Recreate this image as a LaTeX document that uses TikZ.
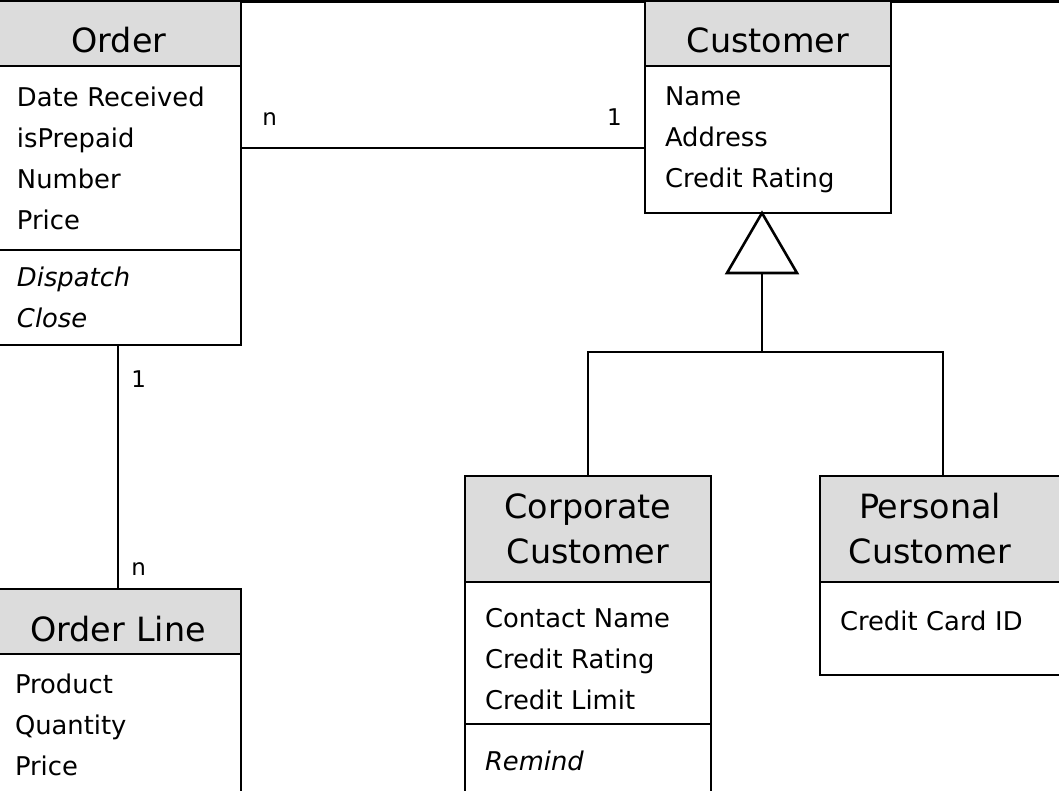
\documentclass[tikz,border=0pt]{standalone}
\usepackage{fontspec}
\setmainfont{DejaVu Sans}
\usepackage{xcolor}
\usetikzlibrary{positioning, calc}
\definecolor{HeadGray}{HTML}{DCDCDC}

\begin{document}
\begin{tikzpicture}[
    x=0.5pt, y=-0.5pt,
    class_head/.style={
        draw=black,
        line width=1.4pt,
        fill=HeadGray,
        anchor=north west,
        align=center,
        inner sep=0pt,
        outer sep=0pt,
        text width=123pt,
        minimum height=#1,
        font=\fontsize{16.7}{22.5}\selectfont
    },
    one_line/.style={
        text height=19.5pt,
        text depth=0pt
    },
    class_body/.style={
        draw=black,
        line width=1.4pt,
        fill=white,
        anchor=north west,
        align=left,
        inner xsep=10pt,
        inner ysep=0pt,
        outer sep=0pt,
        text width=103pt,
        minimum height=#1,
        font=\fontsize{12.9}{20.5}\selectfont
    },
    class_ops/.style={
        class_body=#1,
        font=\fontsize{12.9}{20.5}\selectfont\itshape
    },
    link_line/.style={
        line width=1.3pt,
        color=black
    },
    mult_label/.style={
        inner sep=0pt,
        font=\fontsize{11.5}{14}\selectfont
    }
]

\useasboundingbox (0,0) rectangle (1059,791);
\clip (0,0) rectangle (1059,791);

% top frame line
\draw[link_line, line width=1.5pt] (0,1.5) -- (1059,1.5);

% =========================
% ORDER
% =========================
\node[class_head=32.5pt, one_line, text width=122pt] (order_head) at (-3,1) {Order};
\node[class_body=92pt, text width=102pt] (order_attr) at (order_head.south west)
    {Date Received\\isPrepaid\\Number\\Price};
\node[class_ops=47.5pt, text width=102pt] (order_ops) at (order_attr.south west)
    {Dispatch\\Close};

% =========================
% CUSTOMER
% =========================
\node[class_head=32.5pt, one_line] (cust_head) at (645,1) {Customer};
\node[class_body=73.5pt] (cust_attr) at (cust_head.south west)
    {Name\\Address\\Credit Rating};

% =========================
% CORPORATE / PERSONAL
% =========================
\node[class_head=53pt] (corp_head) at (465,476) {Corporate\\Customer};
\node[class_body=71pt] (corp_attr) at (corp_head.south west)
    {\rule{0pt}{15.8pt}Contact Name\\Credit Rating\\Credit Limit};
\node[class_ops=37pt] (corp_ops) at (corp_attr.south west) {Remind};

\node[class_head=53pt] (pers_head) at (820,476)
    {\hspace*{-13pt}Personal\\\hspace*{-13pt}Customer};
\node[class_body=46.5pt, text depth=8pt] (pers_attr) at (pers_head.south west)
    {Credit Card ID};

% =========================
% ORDER LINE
% =========================
\node[class_head=32.5pt, one_line] (ol_head) at (-5,589) {Order Line};
\node[class_body=71pt] (ol_attr) at (ol_head.south west)
    {Product\\Quantity\\Price};

% =========================
% ASSOCIATIONS
% =========================
\coordinate (assoc_level) at (0,148);
\draw[link_line] (order_attr.east |- assoc_level) -- (cust_attr.west |- assoc_level)
    node[pos=0, mult_label, anchor=south west, xshift=10pt, yshift=10.5pt] (mult_oc) {n}
    node[pos=1, mult_label, anchor=south east, xshift=-11pt, yshift=10.5pt] (mult_co) {1};

\draw[link_line] (ol_head.north) -- (ol_head.north |- order_ops.south)
    node[pos=0, mult_label, anchor=south west, xshift=6pt, yshift=6pt] (mult_lo) {n}
    node[pos=1, mult_label, anchor=north west, xshift=6pt, yshift=-12pt] (mult_ol) {1};

% =========================
% GENERALISATION
% =========================
\coordinate (gen_apex) at ([xshift=-3pt]cust_attr.south);
\coordinate (gen_base) at ($(gen_apex)+(0,60)$);
\coordinate (gen_join) at ($(gen_apex)+(0,139)$);
\draw[link_line, fill=white] (gen_apex) -- ++(-35,60) -- ++(70,0) -- cycle;
\draw[link_line] (gen_base) -- (gen_join);
\draw[link_line] (corp_head.north) |- (gen_join) -| (pers_head.north);

\end{tikzpicture}
\end{document}
